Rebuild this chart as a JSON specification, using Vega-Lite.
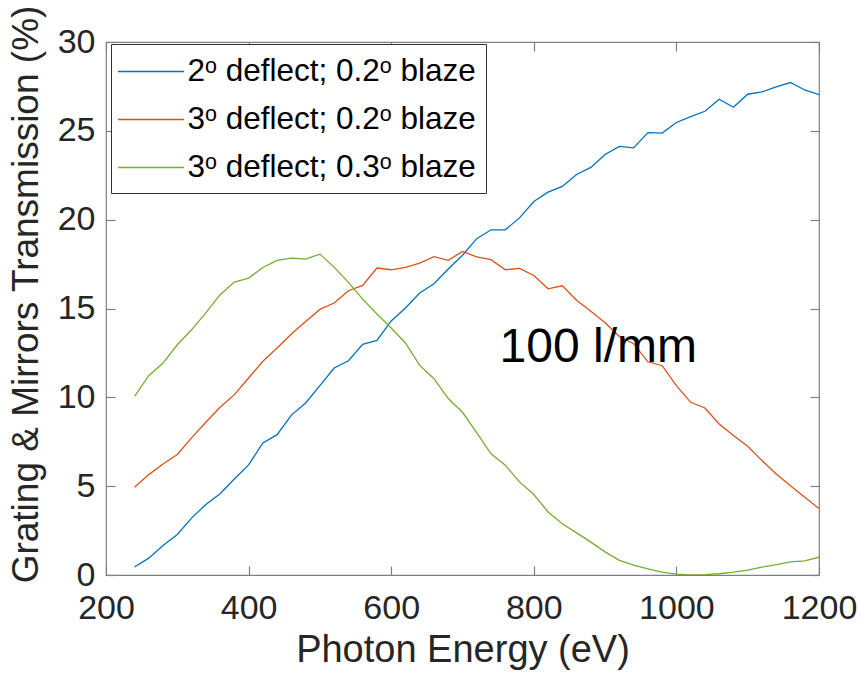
{
  "$schema": "https://vega.github.io/schema/vega-lite/v6.json",
  "width": 713,
  "height": 533,
  "autosize": {"type": "none"},
  "padding": {"left": 106, "top": 42, "right": 41, "bottom": 106},
  "background": "white",
  "config": {
    "font": "Liberation Sans",
    "view": {"stroke": "#808080", "strokeWidth": 1.2},
    "axis": {"grid": false, "domain": false, "tickColor": "#808080", "tickWidth": 1.2, "labelColor": "#262626", "titleColor": "#262626", "labelFont": "Liberation Sans", "titleFont": "Liberation Sans", "titleFontWeight": "normal"}
  },
  "datasets": {
    "curves": [
      {"E": 240, "T": 0.45, "s": "2ᵒ deflect; 0.2ᵒ blaze"},
      {"E": 260, "T": 0.95, "s": "2ᵒ deflect; 0.2ᵒ blaze"},
      {"E": 280, "T": 1.66, "s": "2ᵒ deflect; 0.2ᵒ blaze"},
      {"E": 300, "T": 2.28, "s": "2ᵒ deflect; 0.2ᵒ blaze"},
      {"E": 320, "T": 3.2, "s": "2ᵒ deflect; 0.2ᵒ blaze"},
      {"E": 340, "T": 3.97, "s": "2ᵒ deflect; 0.2ᵒ blaze"},
      {"E": 360, "T": 4.57, "s": "2ᵒ deflect; 0.2ᵒ blaze"},
      {"E": 380, "T": 5.4, "s": "2ᵒ deflect; 0.2ᵒ blaze"},
      {"E": 400, "T": 6.2, "s": "2ᵒ deflect; 0.2ᵒ blaze"},
      {"E": 420, "T": 7.43, "s": "2ᵒ deflect; 0.2ᵒ blaze"},
      {"E": 440, "T": 7.9, "s": "2ᵒ deflect; 0.2ᵒ blaze"},
      {"E": 460, "T": 9.0, "s": "2ᵒ deflect; 0.2ᵒ blaze"},
      {"E": 480, "T": 9.68, "s": "2ᵒ deflect; 0.2ᵒ blaze"},
      {"E": 500, "T": 10.66, "s": "2ᵒ deflect; 0.2ᵒ blaze"},
      {"E": 520, "T": 11.65, "s": "2ᵒ deflect; 0.2ᵒ blaze"},
      {"E": 540, "T": 12.06, "s": "2ᵒ deflect; 0.2ᵒ blaze"},
      {"E": 560, "T": 12.98, "s": "2ᵒ deflect; 0.2ᵒ blaze"},
      {"E": 580, "T": 13.2, "s": "2ᵒ deflect; 0.2ᵒ blaze"},
      {"E": 600, "T": 14.3, "s": "2ᵒ deflect; 0.2ᵒ blaze"},
      {"E": 620, "T": 15.03, "s": "2ᵒ deflect; 0.2ᵒ blaze"},
      {"E": 640, "T": 15.87, "s": "2ᵒ deflect; 0.2ᵒ blaze"},
      {"E": 660, "T": 16.39, "s": "2ᵒ deflect; 0.2ᵒ blaze"},
      {"E": 680, "T": 17.22, "s": "2ᵒ deflect; 0.2ᵒ blaze"},
      {"E": 700, "T": 18.0, "s": "2ᵒ deflect; 0.2ᵒ blaze"},
      {"E": 720, "T": 18.93, "s": "2ᵒ deflect; 0.2ᵒ blaze"},
      {"E": 740, "T": 19.43, "s": "2ᵒ deflect; 0.2ᵒ blaze"},
      {"E": 760, "T": 19.43, "s": "2ᵒ deflect; 0.2ᵒ blaze"},
      {"E": 780, "T": 20.1, "s": "2ᵒ deflect; 0.2ᵒ blaze"},
      {"E": 800, "T": 21.02, "s": "2ᵒ deflect; 0.2ᵒ blaze"},
      {"E": 820, "T": 21.55, "s": "2ᵒ deflect; 0.2ᵒ blaze"},
      {"E": 840, "T": 21.87, "s": "2ᵒ deflect; 0.2ᵒ blaze"},
      {"E": 860, "T": 22.54, "s": "2ᵒ deflect; 0.2ᵒ blaze"},
      {"E": 880, "T": 22.94, "s": "2ᵒ deflect; 0.2ᵒ blaze"},
      {"E": 900, "T": 23.67, "s": "2ᵒ deflect; 0.2ᵒ blaze"},
      {"E": 920, "T": 24.12, "s": "2ᵒ deflect; 0.2ᵒ blaze"},
      {"E": 940, "T": 24.04, "s": "2ᵒ deflect; 0.2ᵒ blaze"},
      {"E": 960, "T": 24.9, "s": "2ᵒ deflect; 0.2ᵒ blaze"},
      {"E": 980, "T": 24.87, "s": "2ᵒ deflect; 0.2ᵒ blaze"},
      {"E": 1000, "T": 25.47, "s": "2ᵒ deflect; 0.2ᵒ blaze"},
      {"E": 1020, "T": 25.8, "s": "2ᵒ deflect; 0.2ᵒ blaze"},
      {"E": 1040, "T": 26.1, "s": "2ᵒ deflect; 0.2ᵒ blaze"},
      {"E": 1060, "T": 26.78, "s": "2ᵒ deflect; 0.2ᵒ blaze"},
      {"E": 1080, "T": 26.33, "s": "2ᵒ deflect; 0.2ᵒ blaze"},
      {"E": 1100, "T": 27.06, "s": "2ᵒ deflect; 0.2ᵒ blaze"},
      {"E": 1120, "T": 27.19, "s": "2ᵒ deflect; 0.2ᵒ blaze"},
      {"E": 1140, "T": 27.47, "s": "2ᵒ deflect; 0.2ᵒ blaze"},
      {"E": 1160, "T": 27.72, "s": "2ᵒ deflect; 0.2ᵒ blaze"},
      {"E": 1180, "T": 27.3, "s": "2ᵒ deflect; 0.2ᵒ blaze"},
      {"E": 1200, "T": 27.04, "s": "2ᵒ deflect; 0.2ᵒ blaze"},
      {"E": 240, "T": 4.94, "s": "3ᵒ deflect; 0.2ᵒ blaze"},
      {"E": 260, "T": 5.65, "s": "3ᵒ deflect; 0.2ᵒ blaze"},
      {"E": 280, "T": 6.25, "s": "3ᵒ deflect; 0.2ᵒ blaze"},
      {"E": 300, "T": 6.78, "s": "3ᵒ deflect; 0.2ᵒ blaze"},
      {"E": 320, "T": 7.72, "s": "3ᵒ deflect; 0.2ᵒ blaze"},
      {"E": 340, "T": 8.6, "s": "3ᵒ deflect; 0.2ᵒ blaze"},
      {"E": 360, "T": 9.44, "s": "3ᵒ deflect; 0.2ᵒ blaze"},
      {"E": 380, "T": 10.15, "s": "3ᵒ deflect; 0.2ᵒ blaze"},
      {"E": 400, "T": 11.09, "s": "3ᵒ deflect; 0.2ᵒ blaze"},
      {"E": 420, "T": 12.03, "s": "3ᵒ deflect; 0.2ᵒ blaze"},
      {"E": 440, "T": 12.78, "s": "3ᵒ deflect; 0.2ᵒ blaze"},
      {"E": 460, "T": 13.56, "s": "3ᵒ deflect; 0.2ᵒ blaze"},
      {"E": 480, "T": 14.27, "s": "3ᵒ deflect; 0.2ᵒ blaze"},
      {"E": 500, "T": 14.95, "s": "3ᵒ deflect; 0.2ᵒ blaze"},
      {"E": 520, "T": 15.31, "s": "3ᵒ deflect; 0.2ᵒ blaze"},
      {"E": 540, "T": 16.0, "s": "3ᵒ deflect; 0.2ᵒ blaze"},
      {"E": 560, "T": 16.3, "s": "3ᵒ deflect; 0.2ᵒ blaze"},
      {"E": 580, "T": 17.28, "s": "3ᵒ deflect; 0.2ᵒ blaze"},
      {"E": 600, "T": 17.18, "s": "3ᵒ deflect; 0.2ᵒ blaze"},
      {"E": 620, "T": 17.31, "s": "3ᵒ deflect; 0.2ᵒ blaze"},
      {"E": 640, "T": 17.56, "s": "3ᵒ deflect; 0.2ᵒ blaze"},
      {"E": 660, "T": 17.92, "s": "3ᵒ deflect; 0.2ᵒ blaze"},
      {"E": 680, "T": 17.71, "s": "3ᵒ deflect; 0.2ᵒ blaze"},
      {"E": 700, "T": 18.21, "s": "3ᵒ deflect; 0.2ᵒ blaze"},
      {"E": 720, "T": 17.9, "s": "3ᵒ deflect; 0.2ᵒ blaze"},
      {"E": 740, "T": 17.75, "s": "3ᵒ deflect; 0.2ᵒ blaze"},
      {"E": 760, "T": 17.18, "s": "3ᵒ deflect; 0.2ᵒ blaze"},
      {"E": 780, "T": 17.26, "s": "3ᵒ deflect; 0.2ᵒ blaze"},
      {"E": 800, "T": 16.86, "s": "3ᵒ deflect; 0.2ᵒ blaze"},
      {"E": 820, "T": 16.11, "s": "3ᵒ deflect; 0.2ᵒ blaze"},
      {"E": 840, "T": 16.28, "s": "3ᵒ deflect; 0.2ᵒ blaze"},
      {"E": 860, "T": 15.47, "s": "3ᵒ deflect; 0.2ᵒ blaze"},
      {"E": 880, "T": 14.84, "s": "3ᵒ deflect; 0.2ᵒ blaze"},
      {"E": 900, "T": 14.2, "s": "3ᵒ deflect; 0.2ᵒ blaze"},
      {"E": 920, "T": 13.43, "s": "3ᵒ deflect; 0.2ᵒ blaze"},
      {"E": 940, "T": 13.02, "s": "3ᵒ deflect; 0.2ᵒ blaze"},
      {"E": 960, "T": 12.0, "s": "3ᵒ deflect; 0.2ᵒ blaze"},
      {"E": 980, "T": 11.78, "s": "3ᵒ deflect; 0.2ᵒ blaze"},
      {"E": 1000, "T": 10.66, "s": "3ᵒ deflect; 0.2ᵒ blaze"},
      {"E": 1020, "T": 9.72, "s": "3ᵒ deflect; 0.2ᵒ blaze"},
      {"E": 1040, "T": 9.4, "s": "3ᵒ deflect; 0.2ᵒ blaze"},
      {"E": 1060, "T": 8.5, "s": "3ᵒ deflect; 0.2ᵒ blaze"},
      {"E": 1080, "T": 7.85, "s": "3ᵒ deflect; 0.2ᵒ blaze"},
      {"E": 1100, "T": 7.25, "s": "3ᵒ deflect; 0.2ᵒ blaze"},
      {"E": 1120, "T": 6.44, "s": "3ᵒ deflect; 0.2ᵒ blaze"},
      {"E": 1140, "T": 5.69, "s": "3ᵒ deflect; 0.2ᵒ blaze"},
      {"E": 1160, "T": 5.03, "s": "3ᵒ deflect; 0.2ᵒ blaze"},
      {"E": 1180, "T": 4.38, "s": "3ᵒ deflect; 0.2ᵒ blaze"},
      {"E": 1200, "T": 3.74, "s": "3ᵒ deflect; 0.2ᵒ blaze"},
      {"E": 240, "T": 10.06, "s": "3ᵒ deflect; 0.3ᵒ blaze"},
      {"E": 260, "T": 11.22, "s": "3ᵒ deflect; 0.3ᵒ blaze"},
      {"E": 280, "T": 11.93, "s": "3ᵒ deflect; 0.3ᵒ blaze"},
      {"E": 300, "T": 12.96, "s": "3ᵒ deflect; 0.3ᵒ blaze"},
      {"E": 320, "T": 13.8, "s": "3ᵒ deflect; 0.3ᵒ blaze"},
      {"E": 340, "T": 14.75, "s": "3ᵒ deflect; 0.3ᵒ blaze"},
      {"E": 360, "T": 15.78, "s": "3ᵒ deflect; 0.3ᵒ blaze"},
      {"E": 380, "T": 16.49, "s": "3ᵒ deflect; 0.3ᵒ blaze"},
      {"E": 400, "T": 16.71, "s": "3ᵒ deflect; 0.3ᵒ blaze"},
      {"E": 420, "T": 17.31, "s": "3ᵒ deflect; 0.3ᵒ blaze"},
      {"E": 440, "T": 17.71, "s": "3ᵒ deflect; 0.3ᵒ blaze"},
      {"E": 460, "T": 17.84, "s": "3ᵒ deflect; 0.3ᵒ blaze"},
      {"E": 480, "T": 17.78, "s": "3ᵒ deflect; 0.3ᵒ blaze"},
      {"E": 500, "T": 18.06, "s": "3ᵒ deflect; 0.3ᵒ blaze"},
      {"E": 520, "T": 17.33, "s": "3ᵒ deflect; 0.3ᵒ blaze"},
      {"E": 540, "T": 16.47, "s": "3ᵒ deflect; 0.3ᵒ blaze"},
      {"E": 560, "T": 15.53, "s": "3ᵒ deflect; 0.3ᵒ blaze"},
      {"E": 580, "T": 14.69, "s": "3ᵒ deflect; 0.3ᵒ blaze"},
      {"E": 600, "T": 13.9, "s": "3ᵒ deflect; 0.3ᵒ blaze"},
      {"E": 620, "T": 13.06, "s": "3ᵒ deflect; 0.3ᵒ blaze"},
      {"E": 640, "T": 11.8, "s": "3ᵒ deflect; 0.3ᵒ blaze"},
      {"E": 660, "T": 11.05, "s": "3ᵒ deflect; 0.3ᵒ blaze"},
      {"E": 680, "T": 9.93, "s": "3ᵒ deflect; 0.3ᵒ blaze"},
      {"E": 700, "T": 9.16, "s": "3ᵒ deflect; 0.3ᵒ blaze"},
      {"E": 720, "T": 8.0, "s": "3ᵒ deflect; 0.3ᵒ blaze"},
      {"E": 740, "T": 6.82, "s": "3ᵒ deflect; 0.3ᵒ blaze"},
      {"E": 760, "T": 6.18, "s": "3ᵒ deflect; 0.3ᵒ blaze"},
      {"E": 780, "T": 5.24, "s": "3ᵒ deflect; 0.3ᵒ blaze"},
      {"E": 800, "T": 4.53, "s": "3ᵒ deflect; 0.3ᵒ blaze"},
      {"E": 820, "T": 3.55, "s": "3ᵒ deflect; 0.3ᵒ blaze"},
      {"E": 840, "T": 2.88, "s": "3ᵒ deflect; 0.3ᵒ blaze"},
      {"E": 860, "T": 2.37, "s": "3ᵒ deflect; 0.3ᵒ blaze"},
      {"E": 880, "T": 1.85, "s": "3ᵒ deflect; 0.3ᵒ blaze"},
      {"E": 900, "T": 1.3, "s": "3ᵒ deflect; 0.3ᵒ blaze"},
      {"E": 920, "T": 0.82, "s": "3ᵒ deflect; 0.3ᵒ blaze"},
      {"E": 940, "T": 0.55, "s": "3ᵒ deflect; 0.3ᵒ blaze"},
      {"E": 960, "T": 0.35, "s": "3ᵒ deflect; 0.3ᵒ blaze"},
      {"E": 980, "T": 0.16, "s": "3ᵒ deflect; 0.3ᵒ blaze"},
      {"E": 1000, "T": 0.05, "s": "3ᵒ deflect; 0.3ᵒ blaze"},
      {"E": 1020, "T": 0.0, "s": "3ᵒ deflect; 0.3ᵒ blaze"},
      {"E": 1040, "T": 0.02, "s": "3ᵒ deflect; 0.3ᵒ blaze"},
      {"E": 1060, "T": 0.07, "s": "3ᵒ deflect; 0.3ᵒ blaze"},
      {"E": 1080, "T": 0.16, "s": "3ᵒ deflect; 0.3ᵒ blaze"},
      {"E": 1100, "T": 0.27, "s": "3ᵒ deflect; 0.3ᵒ blaze"},
      {"E": 1120, "T": 0.44, "s": "3ᵒ deflect; 0.3ᵒ blaze"},
      {"E": 1140, "T": 0.59, "s": "3ᵒ deflect; 0.3ᵒ blaze"},
      {"E": 1160, "T": 0.74, "s": "3ᵒ deflect; 0.3ᵒ blaze"},
      {"E": 1180, "T": 0.8, "s": "3ᵒ deflect; 0.3ᵒ blaze"},
      {"E": 1200, "T": 1.0, "s": "3ᵒ deflect; 0.3ᵒ blaze"}
    ],
    "note": [{"E": 752, "T": 12.8, "label": "100 l/mm"}]
  },
  "resolve": {"axis": {"x": "independent", "y": "independent"}},
  "layer": [
    {
      "data": {"name": "curves"},
      "mark": {"type": "line", "strokeWidth": 1.3, "clip": true},
      "encoding": {
        "x": {"field": "E", "type": "quantitative", "scale": {"domain": [200, 1200], "nice": false, "zero": false},
          "axis": {"orient": "bottom", "values": [200, 400, 600, 800, 1000, 1200], "format": "d", "title": "Photon Energy (eV)", "titleFontSize": 38, "labelFontSize": 34, "tickSize": -9, "labelPadding": 25, "titlePadding": 6, "labelFlush": false}},
        "y": {"field": "T", "type": "quantitative", "scale": {"domain": [0, 30], "nice": false},
          "axis": {"orient": "left", "values": [0, 5, 10, 15, 20, 25, 30], "title": "Grating & Mirrors Transmission (%)", "titleFontSize": 37, "labelFontSize": 34, "tickSize": -9, "labelPadding": 20, "titleX": -61, "titleBaseline": "bottom", "titleAngle": -90, "titleY": 252, "labelFlush": false}},
        "color": {"field": "s", "type": "nominal",
          "scale": {"domain": ["2ᵒ deflect; 0.2ᵒ blaze", "3ᵒ deflect; 0.2ᵒ blaze", "3ᵒ deflect; 0.3ᵒ blaze"], "range": ["#0072BD", "#D95319", "#77AC30"]},
          "legend": {"title": null, "orient": "none", "legendX": 5, "legendY": 2, "symbolType": "M-2,0L2,0", "symbolSize": 1089, "symbolStrokeWidth": 1.3, "symbolOffset": 12.5, "labelFontSize": 31.5, "labelColor": "#000000", "labelFont": "Liberation Sans", "rowPadding": 15, "strokeColor": "#333333", "fillColor": "white", "padding": 10, "labelOffset": 19, "labelLimit": 400}}
      }
    },
    {
      "data": {"name": "note"},
      "mark": {"type": "text", "align": "left", "baseline": "middle", "fontSize": 48, "font": "Liberation Sans", "color": "#000000"},
      "encoding": {
        "x": {"field": "E", "type": "quantitative", "axis": {"orient": "top", "labels": false, "title": null, "values": [200, 400, 600, 800, 1000, 1200], "tickSize": -9, "domain": false}},
        "y": {"field": "T", "type": "quantitative", "axis": {"orient": "right", "labels": false, "title": null, "values": [0, 5, 10, 15, 20, 25, 30], "tickSize": -9, "domain": false}},
        "text": {"field": "label"}
      }
    }
  ]
}
